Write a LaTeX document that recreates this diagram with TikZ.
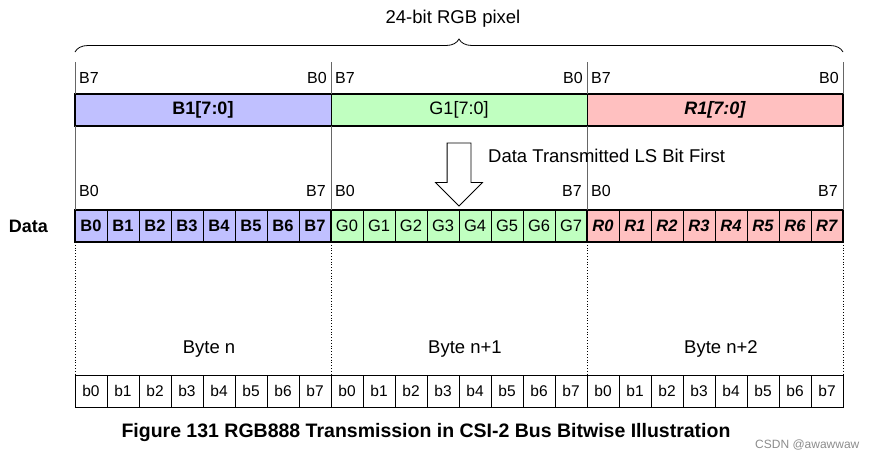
\documentclass[tikz,border=0pt]{standalone}
\usepackage{fontspec}
\setmainfont{Liberation Sans}
\usetikzlibrary{positioning,arrows.meta,shapes.arrows,decorations.pathreplacing,calc}
\definecolor{bfill}{HTML}{C0C0FF}
\definecolor{gfill}{HTML}{C0FFC0}
\definecolor{rfill}{HTML}{FFC0C0}
\newcommand{\fs}[1]{\fontsize{#1}{#1}\selectfont}

\begin{document}
\begin{tikzpicture}[x=1pt, y=-1pt, font=\fs{16},
      seg/.style={draw, line width=0.6pt, minimum width=256pt, minimum height=32pt,
                  inner sep=0pt, outer sep=0pt, anchor=north west, font=\fs{18}},
      cell/.style={draw, line width=0.6pt, minimum width=32pt, minimum height=32pt,
                   inner sep=0pt, outer sep=0pt, anchor=north west, font=\fs{16.5}},
      wcell/.style={cell, fill=white, font=\fs{15.5}},
      lbl/.style={inner sep=0pt, font=\fs{16}},
      big/.style={inner sep=0pt, font=\fs{18.5}},
      thk/.style={line width=1.6pt},
      guide/.style={line width=0.4pt, black!60},
      dots/.style={line width=0.8pt, dotted}]
    \useasboundingbox (0,0) rectangle (875,459);
    \node[seg, fill=bfill] (bB) at (75,94) {\textbf{B1[7:0]}};
    \node[seg, fill=gfill, right=0pt of bB] (bG) {G1[7:0]};
    \node[seg, fill=rfill, right=0pt of bG] (bR) {\textbf{\textit{R1[7:0]}}};
    \foreach \i in {0,...,7} {
      \pgfmathtruncatemacro\g{\i+8}
      \pgfmathtruncatemacro\r{\i+16}
      \node[cell, fill=bfill] (d\i) at (75+32*\i,210) {\textbf{B\i}};
      \node[cell, fill=gfill] (d\g) at (331+32*\i,210) {G\i};
      \node[cell, fill=rfill] (d\r) at (587+32*\i,210) {\textbf{\textit{R\i}}};
    }
    \foreach \i in {0,...,23} {
      \pgfmathtruncatemacro\j{mod(\i,8)}
      \node[wcell] (w\i) at (75+32*\i,375) {b\j};
    }
    \draw[thk] (bB.north west) rectangle (bR.south east);
    \draw[thk] (d0.north west) rectangle (d23.south east);
    \draw[thk] (d7.north east) -- (d7.south east);
    \draw[thk] (d15.north east) -- (d15.south east);
    % guide lines
    \foreach \a in {bB.north west, bG.north west, bR.north west, bR.north east}
      \draw[guide] (\a) -- ([yshift=32pt]\a);
    \draw[guide] (bB.south west) -- (d0.north west);
    \draw[guide] (bG.south west) -- (d8.north west);
    \draw[guide] (bR.south west) -- (d16.north west);
    \draw[guide] (bR.south east) -- (d23.north east);
    \draw[dots] (d0.south west) -- (w0.north west);
    \draw[dots] (d8.south west) -- (w8.north west);
    \draw[dots] (d16.south west) -- (w16.north west);
    \draw[dots] (d23.south east) -- (w23.north east);
    % bit order labels
    \foreach \s in {bB,bG,bR} {
      \node[lbl, above right=10pt and 4pt of \s.north west] {B7};
      \node[lbl, above left=10pt and 4pt of \s.north east] {B0};
    }
    \node[lbl, above right=13pt and 4pt of d0.north west] {B0};
    \node[lbl, above left=13pt and 5pt of d7.north east] {B7};
    \node[lbl, above right=13pt and 4pt of d8.north west] {B0};
    \node[lbl, above left=13pt and 5pt of d15.north east] {B7};
    \node[lbl, above right=13pt and 4pt of d16.north west] {B0};
    \node[lbl, above left=13pt and 5pt of d23.north east] {B7};
    % brace
    \draw[line width=0.8pt, decorate, decoration={brace, amplitude=13pt}]
      ([yshift=42pt]bB.north west) coordinate (brL) -- ([yshift=42pt]bR.north east) coordinate (brR);
    \node[big] (pix) at (453,19) {24-bit RGB pixel};
    % transmit arrow
    \node[single arrow, draw, line width=0.8pt, rotate=-90, inner sep=11.5pt, minimum height=63pt,
          single arrow head extend=11.5pt, single arrow head indent=0pt] (arr) at (459,168.5) {};
    \node[big, anchor=west] (txt) at (488,156) {Data Transmitted LS Bit First};
    \node[big, left=27pt of d0, font=\fs{18}\bfseries] (data) {Data};
    \node[big] (by0) at ($(w0.north west)!0.5!(w7.north east)+(6,-26)$) {Byte n};
    \node[big] (by1) at ($(w8.north west)!0.5!(w15.north east)+(6,-26)$) {Byte n+1};
    \node[big] (by2) at ($(w16.north west)!0.5!(w23.north east)+(6,-26)$) {Byte n+2};
    \node[inner sep=0pt, font=\fs{19.5}\bfseries] (cap) at (426,432)
      {Figure 131 RGB888 Transmission in CSI-2 Bus Bitwise Illustration};
    \node[inner sep=0pt, font=\fs{12}, black!45, anchor=west] (mark) at (755,445) {CSDN @awawwaw};
\end{tikzpicture}
\end{document}
